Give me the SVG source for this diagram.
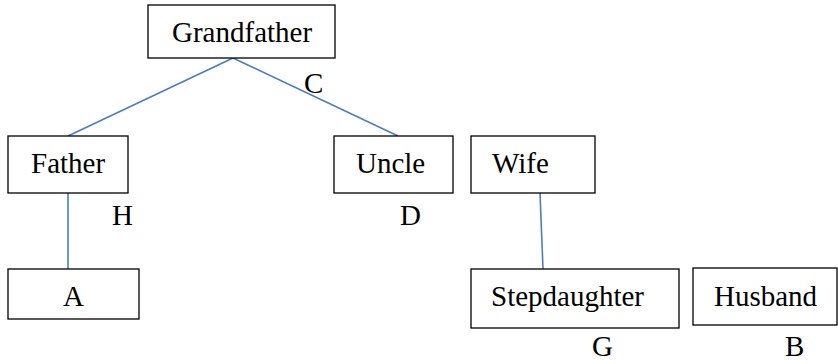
<svg xmlns="http://www.w3.org/2000/svg" width="838" height="364" viewBox="0 0 838 364">
<style>
.box{fill:#fff;stroke:#000;stroke-width:1.3}
.t{font-family:"Liberation Serif","Times New Roman",serif;font-size:29px;fill:#000}
.c{fill:none;stroke:#4A7EBB;stroke-width:1.6}
</style>
<rect width="838" height="364" fill="#fff"/>
<g id="connectors">
<line class="c" x1="233" y1="58" x2="68" y2="136"/>
<line class="c" x1="233" y1="58" x2="398" y2="136"/>
<line class="c" x1="68" y1="193" x2="68" y2="269"/>
<line class="c" x1="540" y1="193" x2="543" y2="269"/>
</g>
<g id="grandfather"><rect class="box" x="148" y="5" width="187" height="53"/><text class="t" x="172" y="42">Grandfather</text></g>
<g id="father"><rect class="box" x="8" y="136" width="120" height="57"/><text class="t" x="31" y="173">Father</text></g>
<g id="uncle"><rect class="box" x="334" y="136" width="119" height="57"/><text class="t" x="356" y="173">Uncle</text></g>
<g id="wife"><rect class="box" x="471" y="136" width="124" height="57"/><text class="t" x="492" y="173">Wife</text></g>
<g id="a"><rect class="box" x="8" y="269" width="131" height="50"/><text class="t" x="63" y="306">A</text></g>
<g id="stepdaughter"><rect class="box" x="471" y="269" width="208" height="59"/><text class="t" x="491" y="306">Stepdaughter</text></g>
<g id="husband"><rect class="box" x="693" y="268" width="144" height="57"/><text class="t" x="714" y="306">Husband</text></g>
<g id="labels">
<text class="t" x="304" y="93">C</text>
<text class="t" x="112" y="225">H</text>
<text class="t" x="400" y="225">D</text>
<text class="t" x="592" y="356">G</text>
<text class="t" x="785" y="356">B</text>
</g>
</svg>
